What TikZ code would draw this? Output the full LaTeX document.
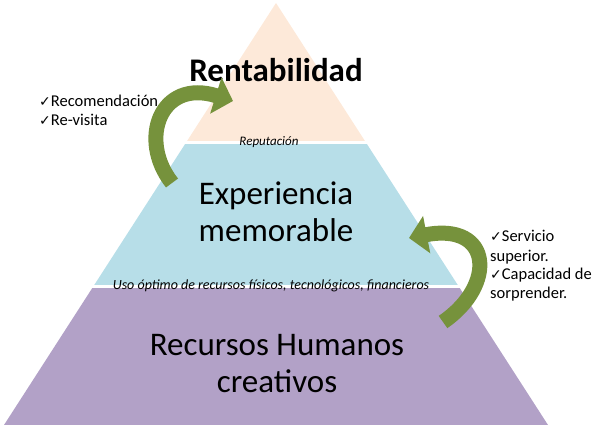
\documentclass[tikz,border=0pt]{standalone}
\usepackage{fontspec}
\setmainfont{Carlito}
\newfontfamily\symfont{DejaVu Sans}
\usetikzlibrary{arrows.meta}
\definecolor{peach}{HTML}{FDE9D9}
\definecolor{lblue}{HTML}{B7DEE8}
\definecolor{lpurple}{HTML}{B2A1C7}
\definecolor{olive}{HTML}{76923C}
\newcommand{\chk}{{\symfont\bfseries\fontsize{14}{16}\selectfont ✓}}
\tikzset{
  bigtxt/.style={font=\fontsize{33}{37}\selectfont, inner sep=0pt, anchor=base},
  smallit/.style={font=\fontsize{13}{15}\selectfont\itshape, inner sep=0pt, anchor=base},
  listtxt/.style={font=\fontsize{16.5}{18}\selectfont, inner sep=0pt, anchor=base west},
  greenarrow/.style={draw=olive, line width=15pt, -{Triangle[length=18pt,width=37pt]}}
}
\begin{document}
\begin{tikzpicture}[x=1pt,y=-1pt]
\useasboundingbox (0,0) rectangle (601,427);
\begin{scope}
  \clip (276,3) -- (4,425) -- (548,425) -- cycle;
  \fill[peach] (0,0) rectangle (601,141);
  \fill[lblue] (0,144) rectangle (601,285);
  \fill[lpurple] (0,288) rectangle (601,425);
\end{scope}

\node[bigtxt, font=\fontsize{33}{37}\selectfont\bfseries] (rent) at (276,82) {Rentabilidad};
\node[smallit] (rep) at (269,146) {Reputación};
\node[bigtxt] (exp1) at (276,205) {Experiencia};
\node[bigtxt] (exp2) at (276,242) {memorable};
\node[smallit, font=\fontsize{14}{16}\selectfont\itshape] (uso) at (271,289) {Uso óptimo de recursos físicos, tecnológicos, financieros};
\node[bigtxt] (rh1) at (277,355) {Recursos Humanos};
\node[bigtxt] (rh2) at (277,392) {creativos};

\node[listtxt] (l1) at (39,107) {\chk Recomendación};
\node[listtxt] (l2) at (39,126) {\chk Re-visita};

\node[listtxt] (r1) at (490,242) {\chk Servicio};
\node[listtxt] (r2) at (490,261) {superior.};
\node[listtxt] (r3) at (490,279) {\chk Capacidad de};
\node[listtxt] (r4) at (490,298) {sorprender.};

\coordinate (la1) at (172,183);
\coordinate (la2) at (233,101);
\draw[greenarrow] (la1) .. controls (138,140) and (160,78) .. (la2);

\coordinate (ra1) at (443,322);
\coordinate (ra2) at (409,238);
\draw[greenarrow] (ra1) .. controls (497,285) and (492,222) .. (ra2);
\end{tikzpicture}
\end{document}
